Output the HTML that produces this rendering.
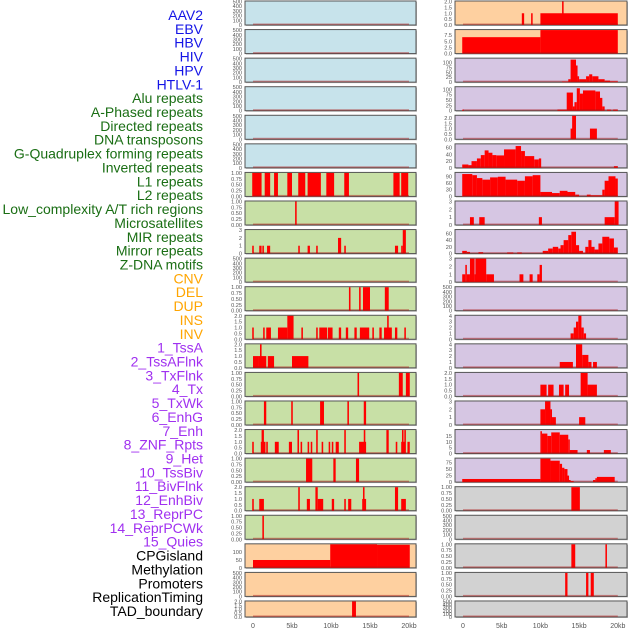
<!DOCTYPE html>
<html><head><meta charset="utf-8"><style>
html,body{margin:0;padding:0;background:#fff;}
svg{display:block;font-family:"Liberation Sans",sans-serif;}
</style></head><body>
<svg id="chart" width="630" height="630" viewBox="0 0 630 630"></svg>
<script>
const labels=["AAV2","EBV","HBV","HIV","HPV","HTLV-1","Alu repeats","A-Phased repeats","Directed repeats","DNA transposons","G-Quadruplex forming repeats","Inverted repeats","L1 repeats","L2 repeats","Low_complexity A/T rich regions","Microsatellites","MIR repeats","Mirror repeats","Z-DNA motifs","CNV","DEL","DUP","INS","INV","1_TssA","2_TssAFlnk","3_TxFlnk","4_Tx","5_TxWk","6_EnhG","7_Enh","8_ZNF_Rpts","9_Het","10_TssBiv","11_BivFlnk","12_EnhBiv","13_ReprPC","14_ReprPCWk","15_Quies","CPGisland","Methylation","Promoters","ReplicationTiming","TAD_boundary"];
const labelColors=Array(6).fill("#1414e6").concat(Array(13).fill("#1a6e14"),Array(5).fill("#ffa500"),Array(15).fill("#a030f0"),Array(5).fill("#000"));
const panelMax=[500,500,500,500,500,500,1,1,3,500,1,2,2,1,1,2,1,2,1,150,500,2,
2,9.6,120,110,2.2,70,105,3,70,3,500,4,4,2,3,20,90,1,500,1,1,500];
const panelSegs=[
[],[],[],[],[],[],
[[-0.1,1.1,1],[1.5,2.2,1],[2.7,3.2,1],[4.4,5.0,1],[5.8,6.7,1],[7.0,8.7,1],[9.4,10.4,1],[11.7,12.3,1],[18.0,18.8,1],[19.0,19.9,1]],
[[5.4,5.6,1]],
[[-0.1,0.1,1],[0.8,1.1,1],[1.2,1.4,1],[1.8,2.2,1],[5.8,6.0,1],[7.0,7.3,1],[8.1,8.3,1],[10.9,11.3,2],[11.7,11.9,1],[18.2,18.6,1],[19.0,19.2,1],[19.2,19.6,3]],
[],
[[12.3,12.5,1],[13.6,13.8,1],[14.1,15.0,1],[16.9,17.4,1]],
[[-0.1,0.1,1],[1.3,1.5,1],[1.7,2.3,1],[3.2,4.4,1],[4.4,5.2,2],[6.2,6.4,1],[8.1,8.3,1],[8.5,9.5,1],[9.6,10.2,1],[11.0,11.3,1],[11.9,12.2,1],[13.0,13.3,1],[13.7,14.9,1],[15.3,15.5,1],[16.2,16.5,1],[16.8,17.8,1],[17.2,17.4,2],[18.2,18.5,1],[19.4,19.6,1]],
[[0,0.7,1],[0.7,1.7,1],[0.9,1.1,2],[1.9,2.7,1],[5.0,7.1,1]],
[[13.4,13.6,1],[18.7,19.2,1],[19.6,20.1,1]],
[[1.4,1.7,1],[4.9,5.1,1],[8.6,9.1,1],[12.1,12.3,1],[14.2,14.5,1]],
[[-0.1,0.1,1],[1.0,1.6,1],[1.1,1.4,2],[1.7,1.9,1],[2.8,3.3,1],[4.6,5.0,1],[5.7,5.9,2],[6.1,6.3,1],[7.0,7.2,1],[7.4,7.6,1],[8.1,8.3,2],[8.8,9.0,1],[9.7,9.9,1],[10.1,10.3,1],[10.6,11.0,1],[11.7,11.9,2],[13.6,14.5,1],[14.2,14.4,2],[17.1,17.4,2],[18.3,18.5,1],[19.0,19.5,1],[19.1,19.3,2],[19.4,19.6,2],[19.8,20.1,1]],
[[6.8,7.6,1],[10.3,10.6,1],[13.2,13.6,1]],
[[-0.1,0.1,1],[0.8,1.4,1],[5.8,6.0,2],[6.9,7.3,1],[8.0,8.3,2],[8.3,9.0,1],[10.1,10.4,1],[11.7,11.9,1],[12.2,12.6,1],[14.0,14.5,1],[14.1,14.3,2],[18.2,18.6,2],[19.0,19.6,1]],
[[1.2,1.4,1]],
[[0,9.9,50],[9.9,15.9,150],[15.9,20.1,147]],
[],
[[12.7,13.2,2]],
[[7.6,7.9,1],[8.8,9.0,1],[10.0,20.0,1],[12.8,13.0,2]],
[[-0.1,10.0,6.7],[10.0,20.0,9.6]],
[[12.8,13.6,3],[13.6,13.9,15],[13.9,14.6,115],[14.6,14.8,85],[14.8,15.0,30],[15.0,15.9,15],[15.9,16.3,30],[16.3,16.7,40],[16.7,17.5,30],[17.5,18.3,15],[18.3,19.0,8],[19.0,20.0,4]],
[[-0.1,0.1,5],[12.2,13.4,5],[13.4,14.2,85],[14.2,14.4,20],[14.4,14.7,40],[14.7,15.1,105],[15.1,15.5,80],[15.5,17.1,95],[17.1,17.7,90],[17.7,18.0,60],[18.0,18.3,20],[18.6,19.1,5],[19.4,20.0,5]],
[[13.9,14.2,1],[14.1,14.6,2.2],[16.4,17.3,1]],
[[-0.1,0.7,10],[0.7,1.1,8],[1.1,1.8,20],[1.8,2.3,28],[2.3,2.8,38],[2.8,3.3,52],[3.3,3.8,45],[3.8,4.3,38],[4.3,5.3,37],[5.3,6.8,55],[6.8,7.5,65],[7.5,8.0,50],[8.0,9.2,35],[9.2,9.8,25],[9.8,10.1,28],[19.5,20.0,5]],
[[-0.1,1.2,100],[1.2,1.8,95],[1.8,2.5,82],[2.5,3.5,75],[3.5,4.5,85],[4.5,5.5,88],[5.5,7.0,75],[7.0,8.0,70],[8.0,9.0,90],[9.0,10.0,95],[10.0,11.5,20],[11.5,12.5,15],[12.5,13.5,25],[13.5,14.5,20],[14.5,15.0,8],[16.0,16.5,8],[16.5,18.0,5],[18.0,18.3,30],[18.3,18.8,70],[18.8,19.7,90],[19.7,20.0,80]],
[[0.9,1.4,1],[2.1,2.8,1],[9.8,10.2,1],[18.3,19.6,1],[19.6,20.1,3]],
[[-0.1,0.5,8],[0.5,0.9,5],[2.0,2.6,4],[5.7,6.5,3],[7.0,7.6,3],[10.3,11.0,8],[11.0,11.6,15],[11.6,12.3,20],[12.3,12.6,15],[12.6,13.0,25],[13.0,13.6,40],[13.6,14.0,55],[14.0,14.6,65],[14.6,15.0,25],[15.0,15.5,8],[15.5,15.8,2],[15.8,16.2,20],[16.2,16.6,40],[16.6,17.0,20],[17.0,17.5,12],[17.5,18.0,30],[18.0,18.9,50],[18.9,19.5,45],[19.5,20.0,18]],
[[-0.1,0.3,1],[0.3,0.5,2.2],[0.5,0.9,1],[0.9,1.5,3],[1.5,1.6,1],[1.6,3.0,3],[3.0,4.0,1],[7.3,7.8,1],[8.6,9.0,1],[9.6,9.9,1],[9.9,10.2,2.2]],
[],
[[13.9,14.3,1],[14.3,14.6,2],[14.6,14.9,3],[14.9,15.3,4],[15.3,15.6,2],[15.6,15.9,1]],
[[12.5,14.2,1],[14.6,15.4,4],[15.4,16.2,2.2],[16.2,16.6,1],[16.8,17.3,1]],
[[10.0,10.8,1],[11.0,11.7,1],[12.4,13.0,1],[13.2,13.7,1],[15.2,16.1,2],[16.1,17.3,1]],
[[10.0,10.6,2],[10.6,11.3,3],[11.3,11.5,2],[11.5,12.0,1],[15.0,15.8,1]],
[[10.0,10.2,19],[10.2,10.9,17],[10.9,11.4,15],[11.4,12.5,18],[12.5,13.6,16],[13.6,13.8,12],[13.8,14.8,3],[16.0,16.4,3],[18.2,19.1,3]],
[[-0.1,10.0,12],[10.0,11.3,90],[11.3,12.5,82],[12.5,12.8,70],[12.8,13.1,55],[13.1,13.5,50],[13.5,13.7,25],[13.7,13.9,8],[13.9,14.3,4],[16.8,17.1,8],[17.1,17.3,15],[17.3,19.6,20]],
[[14.0,15.1,1]],
[],
[[14.0,14.5,1],[18.4,18.6,1]],
[[13.2,13.5,1],[15.9,16.2,1],[16.5,16.9,1]],
[]];
const xTickValues=[0,5,10,15,20];
const xTickLabels=["0","5kb","10kb","15kb","20kb"];

const NS="http://www.w3.org/2000/svg";
const svg=document.getElementById("chart");
function mk(tag,attrs,parent){const e=document.createElementNS(NS,tag);for(const k in attrs)e.setAttribute(k,attrs[k]);(parent||svg).appendChild(e);return e;}
const colBg=i=>{ if(i<6) return "#c7e3eb"; if(i<19) return "#c8e0a6"; if(i<24) return "#fed0a0"; if(i<39) return "#d6c6e3"; return "#d2d2d2";};
const colX=[{x0:245,x1:416,z:253,k:7.8},{x0:455,x1:627,z:463,k:7.74}];
function rowTop(r){return 1+r*28.57;}
function rowH(r){return r===21?16:24;}
function tickSet(m){
  if(m===500) return [0,100,200,300,400,500];
  if(m===1) return [0,0.25,0.5,0.75,1];
  if(m===2||m===2.2) return [0,0.5,1,1.5,2];
  if(m===3) return [0,1,2,3];
  if(m===4) return [0,1,2,3,4];
  if(m===9.6) return [0,2.5,5,7.5];
  if(m===150) return [0,50,100];
  if(m===120||m===110) return [0,25,50,75,100];
  if(m===70) return [0,20,40,60];
  if(m===105) return [0,30,60,90];
  if(m===20) return [0,5,10,15];
  if(m===90) return [0,25,50,75];
  return [0,m];
}
function fmt(m,v){
  if(m===1) return v.toFixed(2);
  if(m===2||m===2.2||m===9.6) return v.toFixed(1);
  return String(v);
}
// labels
labels.forEach((t,i)=>{
  const e=mk("text",{x:203,y:15+i*13.86+5,"text-anchor":"end","font-size":14,fill:labelColors[i]});
  e.textContent=t;
  
  
});
// panels
panelSegs.forEach((segs,i)=>{
  const c=i<22?0:1, r=i%22, C=colX[c];
  const top=rowTop(r), h=rowH(r), bot=top+h, m=panelMax[i];
  const g=mk("g",{});
  
  
  mk("rect",{x:C.x0+1,y:top+1,width:C.x1-C.x0,height:h,fill:"#bbb"},g);
  mk("rect",{x:C.x0,y:top,width:C.x1-C.x0,height:h,fill:colBg(i),stroke:"#555","stroke-width":1},g);
  const xs=kb=>C.z+kb*C.k;
  const ys=v=>bot-(v/m)*(h-0.5);
  segs.forEach(s=>{
    const b=mk("rect",{x:xs(s[0]),y:ys(s[2]),width:Math.max(1,xs(s[1])-xs(s[0])),height:bot-ys(s[2]),fill:"#ff0000"},g);
    
    
  });
  mk("rect",{x:xs(0),y:bot-1.5,width:xs(20)-xs(0),height:1.5,fill:"rgba(170,20,20,0.45)"},g);
  const ticks=tickSet(m);
  ticks.forEach(v=>{
    const t=mk("text",{x:C.x0-3,y:ys(v)+2,"text-anchor":"end","font-size":5.6,fill:"#555"},g);
    t.textContent=fmt(m,v);
  });
});
// x axes
colX.forEach((C,ci)=>{
  xTickValues.forEach((v,j)=>{
    const t=mk("text",{x:C.z+v*C.k,y:628,"text-anchor":"middle","font-size":7,fill:"#555"});
    t.textContent=xTickLabels[j];
    
    
  });
});
</script>
</body></html>
